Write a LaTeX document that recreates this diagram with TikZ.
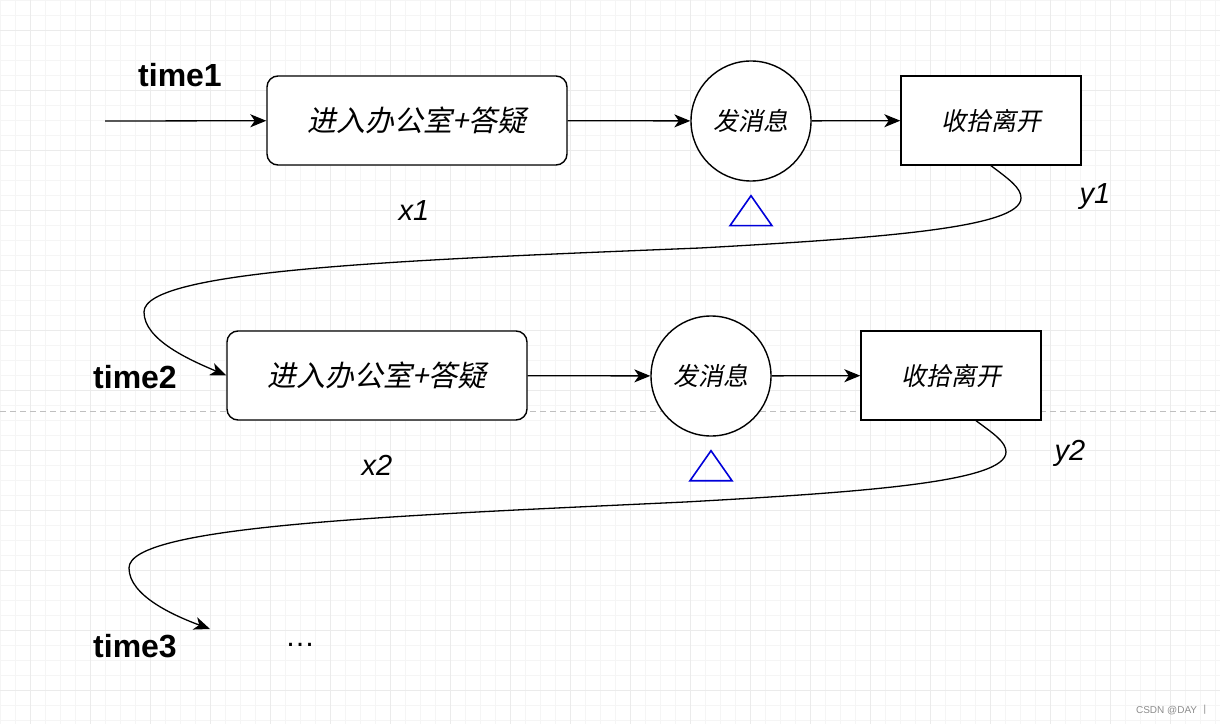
\documentclass[tikz,border=0pt]{standalone}
\usepackage{fontspec}
\setmainfont{Liberation Sans}
\newfontfamily\cjk[FakeSlant=0.2]{Noto Sans CJK SC}
\newfontfamily\cjkup{Noto Sans CJK SC}
\usetikzlibrary{arrows.meta,positioning,calc}

\tikzset{
  gridminor/.style={draw=black!4,line width=0.7pt},
  gridmajor/.style={draw=black!8,line width=0.8pt},
  roundbox/.style={draw,fill=white,rounded corners=11pt,line width=1.4pt,minimum width=300pt,minimum height=89pt,font=\cjk\fontsize{29}{33}\selectfont},
  msgcircle/.style={draw,fill=white,circle,line width=1.4pt,minimum size=120pt,inner sep=0pt,font=\cjk\fontsize{25}{29}\selectfont},
  plainbox/.style={draw,fill=white,line width=1.4pt,minimum width=180pt,minimum height=89pt,font=\cjk\fontsize{25}{29}\selectfont},
  timelabel/.style={font=\bfseries\fontsize{32}{36}\selectfont},
  varlabel/.style={font=\itshape\fontsize{29}{33}\selectfont},
  bluetri/.style={draw=blue!85!black,line width=1.6pt,line join=miter},
  flow/.style={-{Stealth[length=16pt,width=13pt,inset=4.5pt]},line width=1.3pt},
}

\begin{document}
\begin{tikzpicture}[x=1pt,y=1pt]
\useasboundingbox (0,0) rectangle (1220,724);
%background grid
\draw[gridminor,shift={(0,4)}] (0,-4) grid[step=15pt] (1220,720);
\draw[gridmajor,shift={(30,34)}] (-30,-34) grid[step=60pt] (1190,690);
\draw[black!25,line width=1pt,dash pattern=on 6pt off 4pt] (0,313)--(1220,313);

%first row
\node[timelabel] (t1) at (180,649) {time1};
\coordinate (in1) at (105,603);
\node[roundbox] (b1) at (417,603.5) {进入办公室+答疑};
\node[msgcircle] (c1) at (751,603) {发消息};
\node[plainbox] (r1) at (991,603.5) {收拾离开};
\node[varlabel] (x1) at (414,513) {x1};
\node[varlabel] (y1) at (1095,527) {y1};
\draw[flow] (in1)--(b1);
\draw[flow] (b1)--(c1);
\draw[flow] (c1)--(r1);
\draw[bluetri] ([yshift=-14pt]c1.south)--++(21,-30)--++(-42,0)--cycle;

%second row
\node[timelabel] (t2) at (135,347) {time2};
\node[roundbox] (b2) at (377,348.5) {进入办公室+答疑};
\node[msgcircle] (c2) at (711,348) {发消息};
\node[plainbox] (r2) at (951,348.5) {收拾离开};
\node[varlabel] (x2) at (377,259) {x2};
\node[varlabel] (y2) at (1070,271) {y2};
\draw[flow] (b2)--(c2);
\draw[flow] (c2)--(r2);
\draw[bluetri] ([yshift=-14pt]c2.south)--++(21,-30)--++(-42,0)--cycle;

%third row
\node[timelabel] (t3) at (135,78) {time3};
\node[font=\fontsize{30}{34}\selectfont] (dots) at (300,79) {…};
\coordinate (in3) at (210,95);

%wrap-around curves
\draw[flow] (r1.south) .. controls (1010,544) and (1021,536) .. (1021,526)
  .. controls (1021,496) and (880,486) .. (700,476)
  .. controls (400,464) and (144,454) .. (144,412)
  .. controls (144,384) and (190,364) .. (b2.west);
\draw[flow] ([xshift=25pt]r2.south) .. controls (994,290) and (1006,282) .. (1006,272)
  .. controls (1006,242) and (865,232) .. (685,222)
  .. controls (385,208) and (129,198) .. (129,156)
  .. controls (129,128) and (175,108) .. (in3);

\node[text=black!45,font=\fontsize{10}{12}\selectfont] (mark) at (1173,14) {CSDN @DAY {\cjkup 丨}};
\end{tikzpicture}
\end{document}
